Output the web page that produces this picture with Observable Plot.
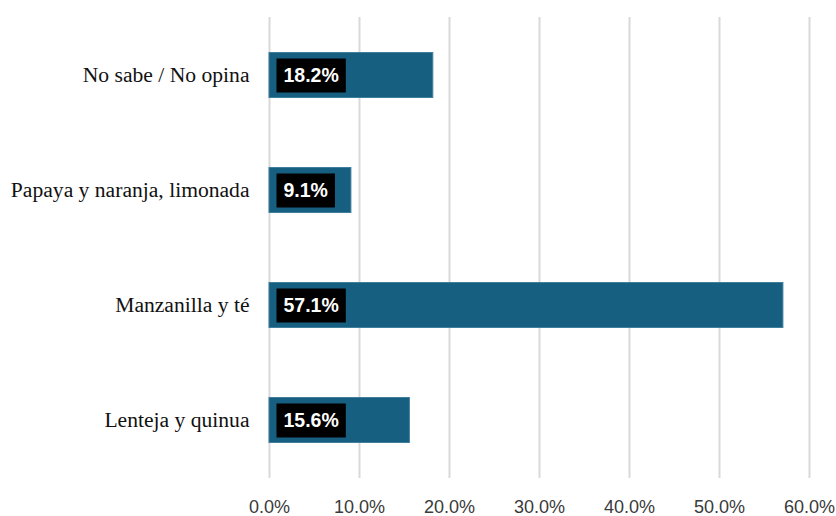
<!DOCTYPE html>
<html>
<head>
<meta charset="utf-8">
<script src="https://cdn.jsdelivr.net/npm/d3@7"></script>
<script src="https://cdn.jsdelivr.net/npm/@observablehq/plot@0.6"></script>
<style>
  html, body { margin: 0; padding: 0; background: #fff; }
  #chart svg { display: block; }
</style>
</head>
<body>
<div id="chart"></div>
<script>
const categories = ["No sabe / No opina", "Papaya y naranja, limonada", "Manzanilla y té", "Lenteja y quinua"];
const values = [18.2, 9.1, 57.1, 15.6];
const xTicks = [0, 10, 20, 30, 40, 50, 60];

const data = categories.map((c, i) => ({category: c, value: values[i]}));

const labelFont = "bold 19.5px 'Liberation Sans', Arial, sans-serif";
const canvas = document.createElement("canvas");
const ctx2d = canvas.getContext("2d");
ctx2d.font = labelFont;

const chart = Plot.plot({
  width: 836,
  height: 516,
  marginLeft: 269,
  marginRight: 27,
  marginTop: 17,
  marginBottom: 38,
  style: {background: "#fff", overflow: "visible"},
  x: {domain: [0, 60], ticks: xTicks, label: null},
  y: {domain: categories, paddingInner: 0.6, paddingOuter: 0.3, label: null},
  marks: [
    Plot.ruleX(xTicks, {stroke: "#d9d9d9", strokeWidth: 2}),
    Plot.barX(data, {x: "value", y: "category", fill: "#175f80", stroke: "#3f7f9c", strokeWidth: 1, insetTop: 0.5, insetBottom: 0.5}),
    Plot.axisX({ticks: xTicks, tickFormat: d => d.toFixed(1) + "%", tickSize: 0, tickPadding: 22, fontSize: 18, fontFamily: "'Liberation Sans', Arial, sans-serif", fill: "#3a3a3a"}),
    Plot.axisY({tickSize: 0, tickPadding: 20, fontSize: 21.6, fontFamily: "'Liberation Serif', 'Times New Roman', serif", fill: "#111"}),
    Plot.text(data, {
      x: () => 0,
      y: "category",
      text: d => d.value.toFixed(1) + "%",
      textAnchor: "start",
      dx: 14,
      fill: "white",
      fontSize: 19.5,
      fontWeight: "bold",
      fontFamily: "'Liberation Sans', Arial, sans-serif",
      render(index, scales, vals, dims, context, next) {
        const g = next(index, scales, vals, dims, context);
        const texts = Array.from(g.querySelectorAll("text"));
        texts.forEach((t, k) => {
          const i = index[k];
          const tx = vals.x[i];
          const ty = vals.y[i];
          const w = ctx2d.measureText(t.textContent).width;
          const r = document.createElementNS("http://www.w3.org/2000/svg", "rect");
          r.setAttribute("x", tx - 7);
          r.setAttribute("y", ty - 17);
          r.setAttribute("width", w + 14);
          r.setAttribute("height", 34);
          r.setAttribute("fill", "#000");
          t.parentNode.insertBefore(r, t);
        });
        return g;
      }
    })
  ]
});
document.getElementById("chart").appendChild(chart);
</script>
</body>
</html>
